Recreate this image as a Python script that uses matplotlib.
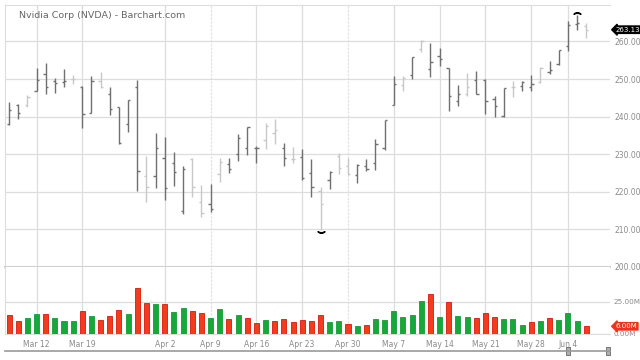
import numpy as np
import pandas as pd

import matplotlib
matplotlib.use('Agg')
import matplotlib.pyplot as plt
from matplotlib.lines import Line2D
from matplotlib.patches import Rectangle

TITLE = "Nvidia Corp (NVDA) - Barchart.com"

# trading days on the chart (Good Friday and Memorial Day closed)
DAYS = pd.bdate_range("2018-03-07", "2018-06-06").drop(pd.to_datetime(["2018-03-30", "2018-05-28"]))

OPEN = [238.0, 243.1, 243.1, 246.9, 251.3, 249.5, 249.1, 250.0, 248.0, 241.1,
        249.4, 246.1, 242.6, 238.1, 247.9, 224.3, 224.3, 228.9, 227.8, 214.9,
        228.7, 217.3, 216.8, 224.8, 227.3, 230.0, 231.6, 231.7, 233.7, 235.6,
        231.7, 228.6, 229.3, 224.9, 220.2, 223.1, 229.5, 226.9, 224.6, 226.9,
        227.6, 231.7, 243.1, 248.5, 251.1, 258.0, 252.7, 256.1, 252.9, 244.2,
        246.0, 249.8, 249.8, 244.6, 240.2, 247.8, 248.2, 248.0, 249.1, 252.0,
        254.0, 258.8, 264.6, 264.0]
HIGH = [243.8, 243.3, 245.7, 252.9, 254.3, 250.4, 252.6, 251.2, 248.2, 250.9,
        252.0, 247.9, 242.6, 244.5, 249.8, 229.4, 235.6, 234.7, 230.5, 226.8,
        228.9, 221.8, 222.0, 229.1, 228.9, 235.4, 237.3, 232.2, 238.4, 239.3,
        233.1, 232.0, 231.5, 228.8, 221.4, 225.5, 230.2, 229.1, 227.3, 228.8,
        234.1, 239.0, 250.9, 250.8, 255.8, 260.3, 259.6, 258.3, 252.9, 248.4,
        251.5, 252.2, 250.0, 245.5, 247.5, 249.4, 249.6, 251.2, 253.3, 254.8,
        257.8, 265.5, 267.1, 264.9]
LOW = [237.9, 239.5, 242.5, 246.9, 246.0, 246.4, 247.8, 248.7, 237.1, 241.1,
       247.6, 240.5, 232.7, 236.0, 220.1, 217.3, 221.0, 217.8, 221.6, 214.2,
       218.7, 213.4, 214.6, 222.6, 225.1, 228.2, 229.7, 227.7, 231.5, 232.8,
       226.8, 227.6, 223.1, 218.7, 209.8, 220.7, 224.8, 224.4, 222.4, 225.5,
       225.7, 231.1, 243.1, 246.9, 250.0, 257.3, 250.6, 253.4, 241.5, 242.7,
       245.5, 245.9, 240.6, 240.0, 240.0, 245.3, 246.7, 246.7, 248.9, 251.3,
       253.8, 257.5, 263.0, 260.8]
CLOSE = [241.8, 241.1, 245.3, 249.8, 247.8, 249.0, 249.4, 250.0, 240.7, 249.4,
         248.0, 241.9, 232.9, 244.5, 225.6, 221.4, 231.6, 221.1, 225.4, 226.2,
         221.4, 214.3, 215.5, 227.9, 226.1, 234.4, 237.2, 231.6, 237.5, 236.4,
         229.1, 228.8, 223.7, 221.3, 216.7, 225.4, 226.4, 224.8, 227.1, 226.2,
         232.8, 239.0, 248.6, 250.4, 255.8, 260.0, 254.5, 255.4, 245.5, 245.9,
         247.8, 245.9, 244.2, 242.7, 247.5, 248.0, 249.3, 248.8, 252.9, 252.5,
         257.6, 264.4, 264.9, 263.13]
# bars drawn in the paler grey
PALE = [0, 0, 1, 0, 0, 0, 0, 1, 0, 0, 1, 0, 0, 0, 0, 1, 0, 0, 0, 0,
        1, 1, 0, 1, 0, 0, 0, 0, 1, 1, 0, 1, 0, 0, 1, 0, 1, 1, 0, 0,
        0, 0, 0, 1, 0, 1, 0, 0, 0, 0, 1, 0, 0, 0, 0, 1, 0, 0, 1, 0,
        0, 0, 0, 1]

# volume, millions of shares
VOLUME = [14.6, 10.4, 12.8, 15.4, 15.9, 12.8, 10.4, 10.4, 18.2, 14.3,
          11.2, 14.1, 18.5, 15.4, 35.7, 24.0, 23.2, 23.2, 16.9, 20.3,
          17.7, 16.7, 12.2, 19.3, 11.5, 15.1, 12.8, 8.9, 11.2, 9.9,
          12.0, 9.6, 10.9, 10.4, 15.1, 9.6, 10.4, 8.1, 6.5, 7.0,
          11.5, 10.7, 17.7, 13.0, 15.1, 25.5, 31.0, 13.5, 24.7, 14.3,
          13.3, 12.5, 16.4, 13.3, 11.5, 11.5, 7.3, 9.1, 9.9, 12.5,
          10.9, 16.4, 9.9, 6.0]
VOL_UP = [0, 0, 1, 1, 0, 1, 1, 1, 0, 1, 0, 0, 0, 1, 0, 0, 1, 0, 1, 1,
          0, 0, 1, 1, 0, 1, 0, 0, 1, 0, 0, 0, 0, 0, 0, 1, 1, 0, 1, 0,
          1, 1, 1, 1, 1, 1, 0, 1, 0, 1, 1, 0, 0, 0, 1, 1, 1, 0, 1, 0,
          1, 1, 1, 0]

PRICE_TICKS = [200, 210, 220, 230, 240, 250, 260]
TICK_DATES = ["2018-03-12", "2018-03-19", "2018-04-02", "2018-04-09", "2018-04-16",
              "2018-04-23", "2018-04-30", "2018-05-07", "2018-05-14", "2018-05-21",
              "2018-05-28", "2018-06-04"]
TICK_LABELS = ["Mar 12", "Mar 19", "Apr 2", "Apr 9", "Apr 16", "Apr 23",
               "Apr 30", "May 7", "May 14", "May 21", "May 28", "Jun 4"]
DASHED = ["Apr 9", "Apr 30"]

W, H = 640, 360
GRID = "#dddddd"
TXT = "#8a8a8a"

x = np.arange(len(DAYS))
tick_x = np.searchsorted(DAYS, pd.to_datetime(TICK_DATES))

fig = plt.figure(figsize=(W / 100, H / 100), dpi=100)
ax = fig.add_axes([5 / W, 1 - 267 / H, 605 / W, 262 / H])
axv = fig.add_axes([5 / W, 1 - 334 / H, 605 / W, 67 / H], sharex=ax)

# price bars
colors = np.where(np.array(PALE) == 1, "#c8c8c8", "#707070")
ax.vlines(x, LOW, HIGH, colors=colors, lw=1.0)
ax.hlines(OPEN, x - 0.25, x, colors=colors, lw=1.0)
ax.hlines(CLOSE, x, x + 0.25, colors=colors, lw=1.0)

# high / low markers
hi = int(np.argmax(HIGH))
lo = int(np.argmin(LOW))
ax.plot(hi, HIGH[hi] + 0.5, marker="$\u2322$", color="black", ms=5)
ax.plot(lo, LOW[lo] - 0.4, marker="$\u2323$", color="black", ms=5)

ax.set_xlim(-0.44, 65.6)
ax.set_ylim(200, 269.7)
ax.set_yticks(PRICE_TICKS)
ax.set_yticklabels(["%.2f" % v for v in PRICE_TICKS])
ax.yaxis.tick_right()
ax.tick_params(axis="y", length=0, pad=3, labelsize=5.5, labelcolor=TXT)
ax.tick_params(axis="x", bottom=False, labelbottom=False)
ax.grid(axis="y", color=GRID, lw=0.9)
ax.spines["right"].set_visible(False)
ax.spines["top"].set_color(GRID)
ax.spines["left"].set_color(GRID)
ax.spines["bottom"].set_color("#d0d0d0")
ax.spines["bottom"].set_linestyle((0, (1, 1)))
ax.spines["bottom"].set_linewidth(1.5)

ax.text(14 / 605, 1 - 11 / 262, TITLE, transform=ax.transAxes, fontsize=6.8,
        color="#666666", va="center", ha="left")

# last price tag
ax.annotate("%.2f" % CLOSE[-1], xy=(1.0, CLOSE[-1]), xycoords=("axes fraction", "data"),
            xytext=(4, 0), textcoords="offset points", fontsize=5, color="white",
            va="center", ha="left", annotation_clip=False,
            bbox=dict(boxstyle="larrow,pad=0.1", fc="black", ec="black"))

# volume bars
vcol = np.where(np.array(VOL_UP) == 1, "#17a83b", "#f23c1e")
vedge = np.where(np.array(VOL_UP) == 1, "#0f9e32", "#e01508")
axv.bar(x, VOLUME, width=0.55, color=vcol, edgecolor=vedge, lw=0.6, zorder=3)
axv.set_ylim(0, 52.3)
axv.set_yticks([0, 25])
axv.set_yticklabels(["0.00M", "25.00M"])
axv.yaxis.tick_right()
axv.tick_params(axis="y", length=0, pad=2.5, labelsize=5.2, labelcolor=TXT)
axv.grid(axis="y", color=GRID, lw=0.9)
for s in ["top", "right"]:
    axv.spines[s].set_visible(False)
axv.spines["left"].set_color(GRID)
axv.spines["bottom"].set_color(GRID)

axv.set_xticks(tick_x)
axv.set_xticklabels(TICK_LABELS)
axv.tick_params(axis="x", length=0, pad=4, labelsize=5.5, labelcolor=TXT)

axv.annotate("%.2fM" % VOLUME[-1], xy=(1.0, VOLUME[-1]), xycoords=("axes fraction", "data"),
             xytext=(4, 0), textcoords="offset points", fontsize=5, color="white",
             va="center", ha="left", annotation_clip=False,
             bbox=dict(boxstyle="larrow,pad=0.1", fc="#f0321c", ec="#f0321c"))

# vertical grid lines through both panels
for a in (ax, axv):
    for tx, lab in zip(tick_x, TICK_LABELS):
        if lab in DASHED:
            a.axvline(tx, color="#e2e2e2", lw=0.9, ls=(0, (2, 1)), zorder=0)
        else:
            a.axvline(tx, color=GRID, lw=0.9, zorder=0)

# scroll bar under the chart
ys = 1 - 351 / H
fig.add_artist(Line2D([5 / W, 610 / W], [ys, ys], color="#999999", lw=1.2))
for hx in (566, 606):
    fig.add_artist(Rectangle((hx / W, 1 - 355 / H), 4 / W, 8 / H, fc="#b0b0b0", ec="#666666", lw=0.6))

plt.savefig("out.png", dpi=100)
plt.close()
